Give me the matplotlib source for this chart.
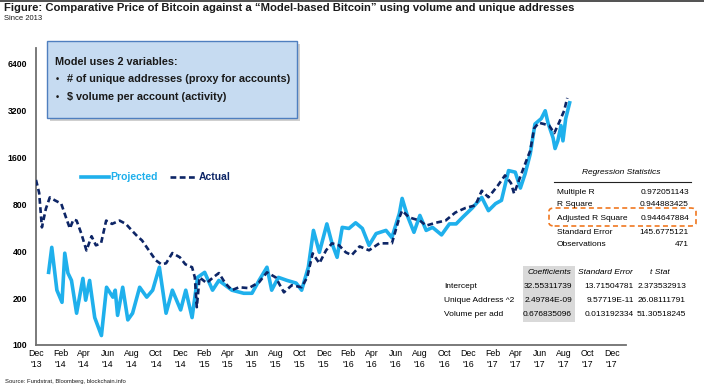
import matplotlib
matplotlib.use("Agg")
import matplotlib.pyplot as plt
import matplotlib.dates as mdates
import numpy as np
import pandas as pd
from matplotlib.patches import FancyBboxPatch, Rectangle

plt.rcParams['font.family'] = ['Liberation Sans', 'DejaVu Sans']

# ---------------- data ----------------
actual_dates = ["2013-12-01", "2013-12-09", "2013-12-16", "2013-12-26", "2014-01-05", "2014-01-18",
                "2014-02-03", "2014-02-16", "2014-02-25", "2014-03-06", "2014-03-14", "2014-03-26",
                "2014-04-08", "2014-04-21", "2014-05-02", "2014-05-15", "2014-05-28", "2014-06-12",
                "2014-07-01", "2014-07-17", "2014-08-01", "2014-08-15", "2014-08-27", "2014-09-15",
                "2014-10-01", "2014-10-15", "2014-10-27", "2014-11-12", "2014-12-01", "2014-12-15",
                "2015-01-01", "2015-01-08", "2015-01-13", "2015-01-20", "2015-02-07", "2015-02-22",
                "2015-03-10", "2015-03-26", "2015-04-12", "2015-04-30", "2015-05-25", "2015-06-20",
                "2015-07-10", "2015-08-01", "2015-08-22", "2015-09-11", "2015-10-06", "2015-10-20",
                "2015-11-03", "2015-11-20", "2015-12-07", "2015-12-22", "2016-01-09", "2016-01-26",
                "2016-02-10", "2016-03-01", "2016-03-25", "2016-04-20", "2016-05-22", "2016-06-10",
                "2016-06-17", "2016-07-05", "2016-08-01", "2016-08-17", "2016-09-10", "2016-10-05",
                "2016-10-30", "2016-11-25", "2016-12-20", "2017-01-05", "2017-01-22", "2017-02-15",
                "2017-03-05", "2017-03-20", "2017-03-28", "2017-04-12", "2017-05-01", "2017-05-08",
                "2017-05-18", "2017-05-30", "2017-06-12", "2017-06-25", "2017-07-08", "2017-07-20",
                "2017-08-02", "2017-08-10"]
actual_values = [1150, 950, 570, 750, 888, 850,
                 810, 650, 561, 640, 630, 520,
                 405, 500, 437, 450, 630, 600,
                 630, 600, 545, 500, 470, 400,
                 350, 330, 335, 390, 366, 330,
                 316, 272, 175, 272, 250, 270,
                 290, 250, 225, 235, 232, 253,
                 293, 272, 218, 242, 235, 272,
                 388, 335, 406, 450, 437, 394,
                 378, 430, 406, 450, 450, 660,
                 730, 660, 630, 585, 610, 630,
                 710, 760, 790, 980, 890, 1060,
                 1230, 1100, 940, 1190, 1600, 1770,
                 2470, 2680, 2630, 2570, 2300, 2680,
                 3200, 3870]

projected_dates = ["2014-01-02", "2014-01-10", "2014-01-23", "2014-02-05", "2014-02-12", "2014-02-20",
                   "2014-03-01", "2014-03-14", "2014-03-30", "2014-04-06", "2014-04-16", "2014-04-29",
                   "2014-05-16", "2014-05-29", "2014-06-14", "2014-06-20", "2014-06-26", "2014-07-09",
                   "2014-07-22", "2014-08-03", "2014-08-21", "2014-09-08", "2014-09-23", "2014-10-10",
                   "2014-10-27", "2014-11-12", "2014-12-03", "2014-12-16", "2015-01-01", "2015-01-15",
                   "2015-02-02", "2015-02-22", "2015-03-10", "2015-04-12", "2015-05-12", "2015-06-02",
                   "2015-06-20", "2015-07-10", "2015-07-22", "2015-08-08", "2015-08-30", "2015-09-22",
                   "2015-10-06", "2015-10-23", "2015-11-05", "2015-11-20", "2015-12-09", "2015-12-22",
                   "2016-01-04", "2016-01-17", "2016-02-03", "2016-02-20", "2016-03-08", "2016-03-25",
                   "2016-04-12", "2016-05-07", "2016-05-22", "2016-06-10", "2016-06-17", "2016-06-30",
                   "2016-07-17", "2016-08-01", "2016-08-17", "2016-09-02", "2016-09-25", "2016-10-15",
                   "2016-11-01", "2016-11-17", "2016-12-12", "2017-01-05", "2017-01-22", "2017-02-09",
                   "2017-02-24", "2017-03-14", "2017-03-31", "2017-04-13", "2017-04-25", "2017-05-08",
                   "2017-05-20", "2017-06-05", "2017-06-15", "2017-06-22", "2017-07-05", "2017-07-10",
                   "2017-07-17", "2017-07-25", "2017-07-30", "2017-08-06", "2017-08-16"]
projected_values = [293, 424, 225, 188, 389, 290,
                    260, 160, 268, 194, 260, 150,
                    115, 235, 203, 225, 155, 235,
                    145, 160, 235, 203, 225, 316,
                    160, 225, 168, 225, 150, 272,
                    293, 225, 260, 225, 215, 215,
                    260, 316, 225, 272, 260, 250,
                    225, 316, 545, 394, 600, 450,
                    366, 570, 561, 610, 561, 437,
                    520, 545, 490, 700, 875, 680,
                    530, 680, 545, 570, 510, 600,
                    600, 660, 760, 888, 730, 810,
                    850, 1320, 1290, 1020, 1260, 1690,
                    2630, 2850, 3200, 2680, 2140, 1830,
                    2050, 2570, 2050, 2850, 3600]

y_ticks = [100, 200, 400, 800, 1600, 3200, 6400]

reg_labels = ["Multiple R", "R Square", "Adjusted R Square", "Standard Error", "Observations"]
reg_values = ["0.972051143", "0.944883425", "0.944647884", "145.6775121", "471"]

coef_headers = ["Coefficients", "Standard Error", "t Stat"]
coef_rows = ["Intercept", "Unique Address ^2", "Volume per add"]
coef_values = [["32.55311739", "13.71504781", "2.373532913"],
               ["2.49784E-09", "9.57719E-11", "26.08111791"],
               ["0.676835096", "0.013192334", "51.30518245"]]

# ---------------- figure ----------------
W, H = 704, 391
fig = plt.figure(figsize=(W / 100, H / 100), dpi=100)

def fx(px):
    return px / W

def fy(py):
    return 1 - py / H

ax = fig.add_axes([fx(36), fy(345), fx(626) - fx(36), fy(48) - fy(345)])
ax.patch.set_alpha(0)
ax.set_zorder(2)

light = '#1fb0ec'
navy = '#0d2566'

ad = pd.to_datetime(actual_dates)
pdt = pd.to_datetime(projected_dates)
ax.plot(pdt, projected_values, color=light, lw=2.6, solid_joinstyle='round', zorder=2)
ax.plot(ad, actual_values, color=navy, lw=1.9, ls=(0, (2.2, 1.3)), zorder=3)

ax.set_yscale('log')
ax.set_ylim(100, 8100)
ax.set_yticks(y_ticks)
ax.set_yticklabels([str(v) for v in y_ticks], fontsize=6.2, fontweight='bold')
ax.yaxis.set_minor_locator(matplotlib.ticker.NullLocator())

ax.set_xlim(pd.Timestamp("2013-12-01"), pd.Timestamp("2018-01-06"))
xt = pd.date_range("2013-12-01", "2017-12-01", freq="2MS")
ax.set_xticks(xt)
ax.set_xticklabels([d.strftime("%b") + "\n'" + d.strftime("%y") for d in xt], fontsize=6.3, linespacing=1.3)
ax.tick_params(axis='y', length=0, pad=6.5)
ax.tick_params(axis='x', length=0, pad=3)

for s in ['top', 'right']:
    ax.spines[s].set_visible(False)
for s in ['left', 'bottom']:
    ax.spines[s].set_color('#707070')
    ax.spines[s].set_linewidth(1.3)

# ---------------- titles ----------------
fig.add_artist(plt.Line2D([0, 1], [fy(1), fy(1)], color='#333333', lw=1.2))
fig.text(fx(4), fy(8), "Figure: Comparative Price of Bitcoin against a \u201cModel-based Bitcoin\u201d using volume and unique addresses",
         fontsize=8.1, fontweight='bold', va='center', ha='left', color='#1a1a1a')
fig.text(fx(4), fy(18), "Since 2013", fontsize=5.5, va='center', ha='left', color='#1a1a1a')
fig.text(fx(5), fy(382), "Source: Fundstrat, Bloomberg, blockchain.info", fontsize=4.2, va='center', ha='left', color='#1a1a1a')

# ---------------- text box ----------------
shadow = FancyBboxPatch((fx(50), fy(121)), fx(297) - fx(47), fy(41) - fy(118),
                        boxstyle="square,pad=0", transform=fig.transFigure,
                        facecolor='#b0b0b0', edgecolor='none', alpha=0.6, zorder=4)
fig.add_artist(shadow)
box = FancyBboxPatch((fx(47), fy(118)), fx(297) - fx(47), fy(41) - fy(118),
                     boxstyle="square,pad=0", transform=fig.transFigure,
                     facecolor='#c6dbf1', edgecolor='#4f7fbf', lw=1.0, zorder=5)
fig.add_artist(box)
fig.text(fx(55), fy(62), "Model uses 2 variables:", fontsize=7.8, fontweight='bold', va='center', zorder=6, color='#1a1a1a')
fig.text(fx(56), fy(79), "\u2022", fontsize=6.5, fontweight='bold', va='center', zorder=6, color='#1a1a1a')
fig.text(fx(67), fy(79), "# of unique addresses (proxy for accounts)", fontsize=7.8, fontweight='bold', va='center', zorder=6, color='#1a1a1a')
fig.text(fx(56), fy(97), "\u2022", fontsize=6.5, fontweight='bold', va='center', zorder=6, color='#1a1a1a')
fig.text(fx(67), fy(97), "$ volume per account (activity)", fontsize=7.8, fontweight='bold', va='center', zorder=6, color='#1a1a1a')

# ---------------- legend ----------------
fig.add_artist(plt.Line2D([fx(81), fx(109)], [fy(177), fy(177)], color=light, lw=2.6))
fig.text(fx(110), fy(177), "Projected", fontsize=7.5, fontweight='bold', color=light, va='center')
fig.add_artist(plt.Line2D([fx(170), fx(195)], [fy(177), fy(177)], color=navy, lw=1.9, ls=(0, (2.2, 1.3))))
fig.text(fx(199), fy(177), "Actual", fontsize=7.5, fontweight='bold', color=navy, va='center')

# ---------------- regression stats ----------------
tf = ['Liberation Sans Narrow', 'Liberation Sans', 'DejaVu Sans']
fig.text(fx(621), fy(173), "Regression Statistics", fontsize=6, style='italic', ha='center', va='center', family=tf)
fig.add_artist(plt.Line2D([fx(554), fx(691)], [fy(182), fy(182)], color='#222222', lw=0.8))
reg_y = [192, 204, 218, 232, 245]
for lab, val, yy in zip(reg_labels, reg_values, reg_y):
    fig.text(fx(557), fy(yy), lab, fontsize=6, ha='left', va='center', family=tf)
    fig.text(fx(689), fy(yy), val, fontsize=6, ha='right', va='center', family=tf)
hl = FancyBboxPatch((fx(549), fy(226)), fx(696) - fx(549), fy(208) - fy(226),
                    boxstyle="round,pad=0,rounding_size=0.008", transform=fig.transFigure,
                    facecolor='none', edgecolor='#f07820', lw=1.2, ls=(0, (3, 2)))
fig.add_artist(hl)

# ---------------- coefficients table ----------------
fig.add_artist(Rectangle((fx(523), fy(322)), fx(575) - fx(523), fy(266) - fy(322),
                         transform=fig.transFigure, facecolor='#d9d9d9', edgecolor='none', zorder=0.5))
fig.text(fx(549), fy(273), coef_headers[0], fontsize=6, style='italic', ha='center', va='center', family=tf)
fig.text(fx(605), fy(273), coef_headers[1], fontsize=6, style='italic', ha='center', va='center', family=tf)
fig.text(fx(660), fy(273), coef_headers[2], fontsize=6, style='italic', ha='center', va='center', family=tf)
row_y = [287, 301, 315]
val_x = [572, 634, 686]
for lab, vals, yy in zip(coef_rows, coef_values, row_y):
    fig.text(fx(444), fy(yy), lab, fontsize=6, ha='left', va='center', family=tf)
    for v, xx in zip(vals, val_x):
        fig.text(fx(xx), fy(yy), v, fontsize=6, ha='right', va='center', family=tf)

fig.savefig("out.png", dpi=100)
